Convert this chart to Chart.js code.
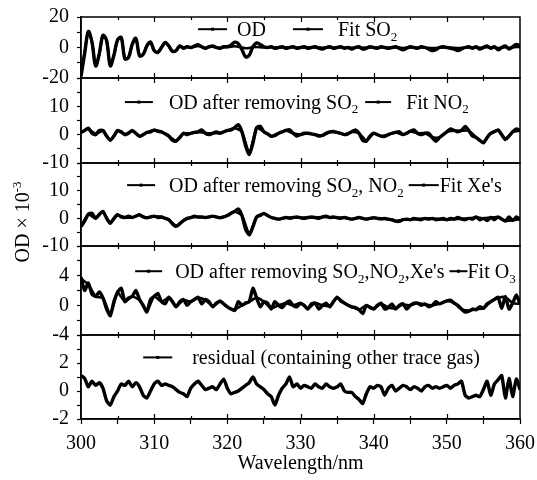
<!DOCTYPE html>
<html>
<head>
<meta charset="utf-8">
<title>OD spectra</title>
<script src="https://cdn.jsdelivr.net/npm/chart.js@4.4.1/dist/chart.umd.min.js"></script>
<style>
  html, body { margin: 0; padding: 0; background: #fff; }
</style>
</head>
<body>
<canvas id="odChart" width="537" height="480"></canvas>
<script>
// sampling grid of the spectra (nm)
const wavelengths = [];
for (let w = 300; w <= 360; w += 0.5) wavelengths.push(w);
const fitWavelengths = [];
for (let w = 300; w <= 360; w += 1) fitWavelengths.push(w);

const xTickLabels = [300, 310, 320, 330, 340, 350, 360];

// panel 1: OD and SO2 fit (0.5 nm)
const od1 = [
  -19, -4, 10.5, 3.5, -12, -4, 8, 4.5, -12, -5,
  5, 6.5, -7.5, -6.5, 2, 6, -5.5, -4.5, 1, 3.6,
  -2, -3.2, 0, 3.3, 1, -2.5, -2, 1, -0.5, 0.5,
  0, 1, 1.8, 0.5, -0.5, 0.5, 1, 0, -0.5, 0.5,
  0.5, 1.5, 3.5, 2.5, -1.5, -6.2, -5, 0.5, 3, 2,
  0.5, 0, 0.5, -0.5, 0, 0.5, -0.5, 0, 0.5, -0.5,
  0, 0.5, -0.5, 0, 0.5, -0.5, -1, 0, 0.5, -0.5,
  0, 0.5, -0.5, 0, -1, 0, 0.5, -1, -0.5, 0.5,
  0, -0.5, 0.5, 0, -0.5, 0, 0.5, -0.5, -1.5, -0.5,
  0.5, 0, -0.5, 0.5, 0, -1, -2, -1.5, 0, 0.5,
  0, -0.5, -1, -2, -1, 0, 0.5, -0.5, 0.5, -1,
  0, 1, -0.5, 0.5, -1.5, 0, 1, -1, 0.5, 2,
  1
];
const fit1 = [
  -17, -3, 10, 3.5, -11.5, -4.5, 8, 4.5, -11.5, -5,
  5, 6.5, -7, -6.5, 2, 5.5, -5, -4.5, 1, 3.3,
  -2, -3, 0, 3, 1, -2.3, -2, 1, 0, 0.3,
  0, 0.5, 1, 0.3, -0.3, 0.3, 0.5, 0, -0.3, 0.2,
  0.3, 0.5, 0.8, 0.5, 0, -0.5, -0.3, 0.2, 0.3, 0.2,
  0, 0.1, 0.2, 0, -0.1, 0.1, 0, 0.1, 0.2, 0,
  0, 0.1, 0, -0.1, 0.1, 0, -0.2, 0, 0.1, 0,
  0, 0.1, 0, 0, -0.2, 0, 0.1, -0.2, 0, 0.1,
  0, -0.1, 0.1, 0, -0.1, 0, 0.1, 0, -0.3, -0.1,
  0.1, 0, -0.1, 0.1, 0, -0.2, -0.4, -0.3, 0, 0.1,
  0, -0.1, -0.2, -0.4, -0.2, 0, 0.1, 0, 0.1, -0.2,
  0, 0.2, -0.1, 0.1, -0.3, 0, 0.2, -0.2, 0.1, 0.4,
  0.2
];

// panel 2: OD after removing SO2 (0.5 nm) and NO2 fit (1 nm)
const od2 = [
  0.8, 1.5, 2.3, 0.5, 0, 1.5, 1.5, -0.5, -2, -0.5,
  1.5, 1, 0, 0.5, 1.5, 0.5, -0.6, 0, 0.8, 1,
  1.7, 1.2, 1, 0.3, -0.5, -2, -2.3, -1, 0.5, 0,
  0.5, 0.8, 1, 1.7, 0.5, 0, 0.5, 1, 0.5, 1,
  1.5, 1.7, 2.5, 3.5, 1, -4, -7, -3, 2.5, 3,
  1, 0.3, -0.6, -0.3, 0.5, 1, 1.5, 1.7, 0.5, -0.5,
  0, 0.5, 0.5, 0.3, 0, -0.5, -0.3, 0.5, 1, 1.1,
  0.8, 0.5, 0, 0.3, 1, 1.7, 0.5, -2, -2.3, -0.5,
  0.5, 0, -0.5, -0.6, 0, 0.5, 0.8, 1, 0, 0.5,
  1.2, 1.7, 0.5, 0, 0.5, 0.5, -1, -2.3, -1, 0,
  1, 2, 1.5, 1, 1.5, 2.9, 1.5, -0.5, -1, -2,
  -2.9, -1, 0.5, 1, 1.7, 0, -1.7, -0.5, 1, 2,
  1.5
];
const fit2 = [
  0.8, 2, 0.3, 1.3, -1.8, 1.3, 0.2, 1.3, -0.5, 0.8,
  1.5, 1, -0.5, -2.1, 0.4, 0.5, 1, 0.6, 0.5, 0.6,
  1.4, 2.3, 1, -6.5, 2.3, 1, -0.5, 0.5, 1.4, 0.5,
  0, 0.5, 0, -0.3, 0.9, 0.8, 0, 1, 0.5, -2.1,
  0.4, -0.5, 0, 0.8, 0, 1.1, 0.5, 0.5, -0.9, -1,
  1, 1.4, 1.4, 1.4, -0.9, -2.7, 0.5, 1.5, -1.5, 1,
  1.4
];

// panel 3: OD after removing SO2, NO2 (0.5 nm) and Xe fit (1 nm)
const od3 = [
  -3, -1, 1.5, 1.8, 0, 1.5, 2.5, 0, -1.8, 0,
  1.3, 0.5, 0.3, 0.8, 0.3, 0.8, 1.3, 0.5, 0.2, 0.5,
  0.8, 0.3, 0.5, 0, -0.5, -2, -2.9, -2, -0.8, 0,
  0.3, 0.8, 0.5, 0.5, 0.3, 0.5, 0.8, 0.5, 0.2, 0.5,
  1, 1.8, 2.5, 3.4, 1, -4, -6, -3, 0.5, 1,
  1.8, 1, 0.3, 0, -0.3, 0, 0.3, 0, 0.3, 0.5,
  0.2, 0, 0.3, 0.5, 0.3, 0, 0.5, 0.8, 0.3, 0.5,
  0.2, 0, 0.3, 0, -0.3, 0, 0.3, 0, -0.3, 0,
  0.2, 0, -0.2, 0, -0.3, -0.5, -1, -1.1, -0.5, -0.3,
  -0.5, 0, -0.3, -0.5, 0, -0.3, 0, -0.5, -0.3, 0,
  -0.5, 0, -0.3, 0.3, -0.2, -0.5, 0, -0.3, 0.5, -0.5,
  0, -0.8, 0.3, -0.5, 0.5, -0.3, -1, 0.5, -0.8, 0.5,
  -0.3
];
const fit3 = [
  -2.8, 1.4, 0, 2.3, -1.7, 1.2, 0.3, 0.3, 1.2, 0.2,
  0.7, 0.5, -0.5, -2.7, -0.8, 0.3, 0.5, 0.3, 0.7, 0.2,
  1, 2.4, 1, -5.6, 0.5, 1.7, 0.3, -0.3, 0.3, 0.3,
  0.2, 0.3, 0.3, 0.5, 0.3, 0.2, 0.3, -0.3, 0.3, -0.3,
  0.2, -0.2, -0.3, -1, -0.5, -0.5, -0.3, 0, 0, -0.3,
  -0.5, -0.3, -0.2, 0, 0.4, 0, 0.3, 0.4, -0.9, -0.7,
  -0.3
];

// panel 4: OD after removing SO2, NO2, Xe's (0.5 nm) and O3 fit (1 nm)
const od4 = [
  3.8, 2, 3, 1.5, 1.2, 1.8, 1, -0.5, -1.4, 0.5,
  1.8, 2.3, 0.5, 1, 1.2, 2, 0.8, 0, -0.9, 0.8,
  1.2, 1.6, 0.5, 0.2, 1.1, 0.5, -0.2, 0.5, 0.8, 0,
  0.5, 0.8, 1.1, 0.2, 0.8, 0.5, -0.2, 0.3, 0.6, 0.2,
  -0.2, -0.5, -0.7, 0.5, 0, 0.3, 0.5, 2.3, 1, -0.2,
  0.5, 0.3, -0.5, 0.5, 0, -0.3, 0.3, 0.6, 0, -0.2,
  0.3, 0, -0.5, 0.2, 0.3, -0.5, 0, 0.3, -0.2, 0.5,
  1.1, 0.6, 0.3, 0, -0.2, -0.3, -0.6, -1.1, 0, -0.3,
  -0.5, 0, 0.3, -0.5, -0.3, 0.2, -0.5, 0, 0.2, -0.5,
  0, 0.3, 0.3, 0, 0.2, -0.2, 0, 0.5, 0.2, 0.4,
  0.6, 0.7, 0.3, 0, -0.5, -0.9, -0.8, -0.5, -0.6, -0.2,
  -0.4, 0.2, 0.5, 0.8, 1.1, -0.4, 1.2, -0.5, 0.3, 1.4,
  0.2
];
const fit4 = [
  3.6, 2.8, 1.2, 1, -1.2, 1.7, 0.5, 1.2, 0.7, -0.8,
  1.2, 0.5, 1, -0.1, 0.7, 0.5, 1, 0.7, -0.1, 0.5,
  -0.2, -0.6, 0, 0.5, 1, 0.5, -0.4, 0, 0.3, 0,
  0.3, -0.4, 0.3, 0, -0.1, 1, 0.3, -0.2, -0.6, 0,
  -0.4, 0.2, -0.3, -0.4, 0.1, 0, 0.3, 0.1, 0, 0.2,
  0.6, 0.3, -0.5, -0.7, -0.5, -0.4, 0.5, 1, 1.1, 0.3,
  0.2
];

// panel 5: residual (0.5 nm)
const od5 = [
  1.1, 0.9, 0.3, 0.7, 0.4, 0.6, 0.2, -0.7, -1, -0.4,
  0, 0.5, 0.4, 0.7, 0.3, 0.6, 0.3, -0.3, -0.5, 0,
  0.5, 0.7, 0.4, 0.5, 0.4, 0.3, 0.1, -0.1, -0.2, -0.4,
  0.2, 0.5, 0.7, 0.4, 0.1, 0.2, 0.3, 0.1, 0.5, 0.85,
  0.2, -0.2, -0.1, 0, 0.2, 0.4, 0.6, 1, 0.5, 0.3,
  0.1, -0.2, -0.4, -1, -0.3, 0.2, 0.5, 1, 0.3, 0.5,
  0.2, 0.4, 0.3, 0.2, 0.5, 0.3, 0.2, 0.5, 0.3, 0.2,
  0.3, 0.5, 0, -0.1, -0.1, -0.4, -0.6, -0.9, -0.2, 0.3,
  0.2, 0.4, 0.3, -0.3, 0.2, 0.4, 0, 0.2, 0.4, 0.3,
  0.1, 0.3, 0.2, 0, 0.3, 0.4, 0.2, 0.3, 0.2, 0.3,
  0.4, 0.2, 0.4, 0.5, 0.7, -0.3, -0.5, -0.4, -0.3, -0.4,
  0.1, 0.7, -0.3, 0.5, 0.8, 1.1, -0.5, 0.9, -0.4, 0.85,
  0.1
];

// y tick labels per panel
const yLabels1 = [-20, 0, 20];
const yLabels2 = [-10, 0, 10];
const yLabels3 = [-10, 0, 10];
const yLabels4 = [-4, 0, 4];
const yLabels5 = [-2, 0, 2];

const SERIF = '"Liberation Serif", "Times New Roman", Times, serif';
const FONT_SIZE = 20;
const PANEL_IDS = ['y1', 'y2', 'y3', 'y4', 'y5'];

// legend text inside each panel; "_2" = subscript
const panelLegends = [
  { axis: 'y1', y: 12, start: 316, items: [
    { len: 29, gap: 10, after: 27, text: 'OD' },
    { len: 30, gap: 15, text: 'Fit SO_2' } ] },
  { axis: 'y2', y: 11.5, start: 306, items: [
    { len: 28, gap: 16, after: 7, text: 'OD after removing SO_2' },
    { len: 26, gap: 15, text: 'Fit NO_2' } ] },
  { axis: 'y3', y: 12, start: 306.3, items: [
    { len: 28, gap: 14, after: 5, text: 'OD after removing SO_2, NO_2' },
    { len: 30, gap: 1, text: "Fit Xe's" } ] },
  { axis: 'y4', y: 4.6, start: 307.4, items: [
    { len: 27, gap: 13, after: 5, text: "OD after removing SO_2,NO_2,Xe's" },
    { len: 18, gap: 0, text: 'Fit O_3' } ] },
  { axis: 'y5', y: 2.4, start: 308.5, items: [
    { len: 29, gap: 20, text: 'residual (containing other trace gas)' } ] }
];

function richParts(text) {
  return text.split(/(_\d|\^\{[^}]*\})/).filter(p => p).map(p => {
    if (p[0] === '_') return { t: p.slice(1), s: 0.65, dy: 0.22 };
    if (p[0] === '^') return { t: p.slice(2, -1), s: 0.65, dy: -0.42 };
    return { t: p, s: 1, dy: 0 };
  });
}
function richWidth(ctx, text, size) {
  let w = 0;
  richParts(text).forEach(p => {
    ctx.font = (size * p.s) + 'px ' + SERIF;
    w += ctx.measureText(p.t).width;
  });
  return w;
}
function drawRich(ctx, text, x, baseY, size) {
  richParts(text).forEach(p => {
    ctx.font = (size * p.s) + 'px ' + SERIF;
    ctx.fillText(p.t, x, baseY + p.dy * size);
    x += ctx.measureText(p.t).width;
  });
  return x;
}

const panelLegendPlugin = {
  id: 'panelLegend',
  afterDatasetsDraw(chart) {
    const ctx = chart.ctx, xs = chart.scales.x;
    ctx.save();
    ctx.fillStyle = '#000';
    ctx.strokeStyle = '#000';
    ctx.textBaseline = 'alphabetic';
    panelLegends.forEach(lg => {
      const cy = chart.scales[lg.axis].getPixelForValue(lg.y);
      let x = xs.getPixelForValue(lg.start);
      lg.items.forEach(it => {
        ctx.lineWidth = 2;
        ctx.beginPath();
        ctx.moveTo(x, cy);
        ctx.lineTo(x + it.len, cy);
        ctx.stroke();
        ctx.fillRect(x + it.len / 2 - 1.5, cy - 1.5, 3, 3);
        x = drawRich(ctx, it.text, x + it.len + it.gap, cy + 7, FONT_SIZE);
        x += it.after || 0;
      });
    });
    ctx.restore();
  }
};

// frame round every panel, with small x ticks on each border
const panelFramePlugin = {
  id: 'panelFrames',
  afterDraw(chart) {
    const ctx = chart.ctx, xs = chart.scales.x, a = chart.chartArea;
    ctx.save();
    ctx.strokeStyle = '#000';
    PANEL_IDS.forEach(id => {
      const s = chart.scales[id];
      ctx.lineWidth = 1.5;
      ctx.strokeRect(a.left, s.top, a.right - a.left, s.bottom - s.top);
      ctx.lineWidth = 1.2;
      xs.ticks.forEach(t => {
        if (t.value <= 300 || t.value >= 360) return;
        const px = Math.round(xs.getPixelForValue(t.value)) + 0.5;
        const len = t.value % 10 === 0 ? 5 : 3;
        ctx.beginPath();
        ctx.moveTo(px, s.top);
        ctx.lineTo(px, s.top + len);
        ctx.moveTo(px, s.bottom);
        ctx.lineTo(px, s.bottom - len);
        ctx.stroke();
      });
    });
    ctx.restore();
  }
};

const yTitlePlugin = {
  id: 'yTitle',
  afterDraw(chart) {
    const ctx = chart.ctx, a = chart.chartArea;
    const text = 'OD \u00d7 10^{-3}';
    ctx.save();
    ctx.translate(22, (a.top + a.bottom) / 2 + 4);
    ctx.rotate(-Math.PI / 2);
    ctx.fillStyle = '#000';
    ctx.textBaseline = 'alphabetic';
    const w = richWidth(ctx, text, FONT_SIZE);
    drawRich(ctx, text, -w / 2, 7, FONT_SIZE);
    ctx.restore();
  }
};

function yScale(order, min, max, step, labels, weight) {
  return {
    type: 'linear',
    position: 'left',
    stack: 'panels',
    stackWeight: weight,
    weight: 10 - order,
    min: min,
    max: max,
    border: { display: true, color: '#000', width: 1.5 },
    grid: {
      drawOnChartArea: false,
      drawTicks: true,
      tickLength: 4,
      tickColor: '#000',
      tickWidth: 1.2
    },
    ticks: {
      stepSize: step,
      autoSkip: false,
      padding: 8,
      color: '#000',
      font: { family: SERIF, size: FONT_SIZE },
      callback: v => labels.includes(v) ? String(v) : ''
    },
    afterFit: s => {
      s.width = 81;
      s.paddingTop = 0;
      s.paddingBottom = 0;
    }
  };
}

function series(xs, ys) {
  return xs.map((w, i) => ({ x: w, y: ys[i] }));
}

const datasets = [
  { label: 'OD', yAxisID: 'y1', data: series(wavelengths, od1), borderWidth: 3.4, tension: 0.35 },
  { label: 'Fit SO2', yAxisID: 'y1', data: series(wavelengths, fit1), borderWidth: 2.6, tension: 0.35 },
  { label: 'OD after removing SO2', yAxisID: 'y2', data: series(wavelengths, od2), borderWidth: 3.4 },
  { label: 'Fit NO2', yAxisID: 'y2', data: series(fitWavelengths, fit2), borderWidth: 2.6 },
  { label: 'OD after removing SO2, NO2', yAxisID: 'y3', data: series(wavelengths, od3), borderWidth: 3.4 },
  { label: "Fit Xe's", yAxisID: 'y3', data: series(fitWavelengths, fit3), borderWidth: 2.6 },
  { label: "OD after removing SO2,NO2,Xe's", yAxisID: 'y4', data: series(wavelengths, od4), borderWidth: 3.4 },
  { label: 'Fit O3', yAxisID: 'y4', data: series(fitWavelengths, fit4), borderWidth: 2.6 },
  { label: 'residual (containing other trace gas)', yAxisID: 'y5', data: series(wavelengths, od5), borderWidth: 3.4 }
].map(d => Object.assign({ borderColor: '#000', pointRadius: 0, tension: 0.2, fill: false }, d));

new Chart(document.getElementById('odChart').getContext('2d'), {
  type: 'line',
  data: { datasets: datasets },
  options: {
    responsive: false,
    animation: false,
    events: [],
    layout: { padding: { top: 17, right: 17, left: 0, bottom: 0 } },
    scales: {
      x: {
        type: 'linear',
        position: 'bottom',
        min: 300,
        max: 360,
        border: { color: '#000', width: 1.5 },
        grid: {
          drawOnChartArea: false,
          drawTicks: true,
          tickLength: 5,
          tickColor: '#000',
          tickWidth: 1.2
        },
        ticks: {
          stepSize: 5,
          autoSkip: false,
          maxRotation: 0,
          padding: 8,
          color: '#000',
          font: { family: SERIF, size: FONT_SIZE },
          callback: v => xTickLabels.includes(v) ? String(v) : ''
        },
        title: {
          display: true,
          text: 'Wavelength/nm',
          color: '#000',
          font: { family: SERIF, size: FONT_SIZE },
          padding: { top: 0, bottom: 4 }
        },
        afterFit: s => {
          s.height = 61;
          s.paddingLeft = 0;
          s.paddingRight = 0;
        }
      },
      y1: yScale(1, -20, 20, 10, yLabels1, 61),
      y2: yScale(2, -10, 20, 5, yLabels2, 85),
      y3: yScale(3, -10, 20, 5, yLabels3, 83),
      y4: yScale(4, -4, 8, 2, yLabels4, 89),
      y5: yScale(5, -2, 4, 1, yLabels5, 84)
    },
    plugins: {
      legend: { display: false },
      tooltip: { enabled: false }
    }
  },
  plugins: [panelLegendPlugin, panelFramePlugin, yTitlePlugin]
});
</script>
</body>
</html>
